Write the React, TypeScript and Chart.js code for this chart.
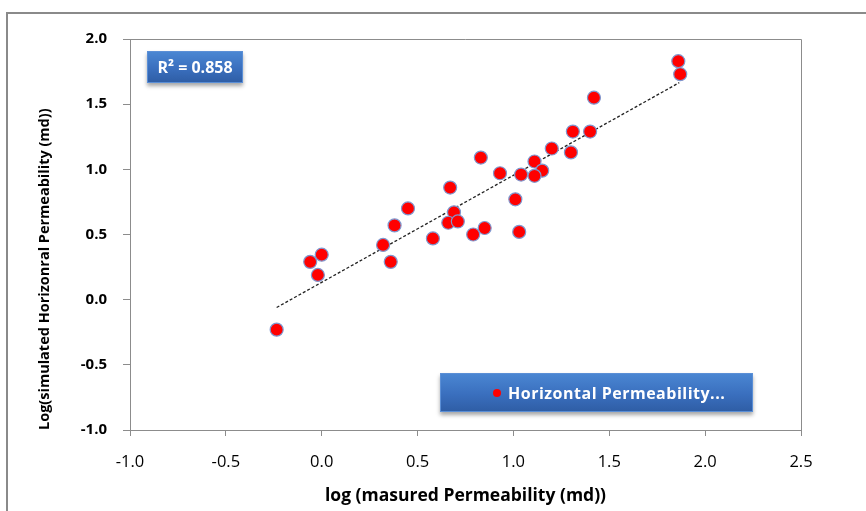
import React, { useEffect, useRef } from "react";
import { Chart, registerables } from "chart.js";

Chart.register(...registerables);

const measuredLog = [
  1.86, 1.87, 1.42, 1.31, 1.40, 1.20, 1.30, 0.83, 1.11, 0.93,
  1.15, 1.04, 1.11, 0.67, 1.01, 0.45, 0.69, 0.66, 0.71, 0.38,
  0.85, 1.03, 0.79, 0.58, 0.32, 0.00, -0.06, 0.36, -0.02, -0.235,
];
const simulatedLog = [
  1.83, 1.73, 1.55, 1.29, 1.29, 1.16, 1.13, 1.09, 1.06, 0.97,
  0.99, 0.96, 0.95, 0.86, 0.77, 0.70, 0.67, 0.59, 0.60, 0.57,
  0.55, 0.52, 0.50, 0.47, 0.42, 0.345, 0.29, 0.29, 0.19, -0.23,
];
const trendX = [-0.235, 1.865];
const trendY = [-0.06, 1.665];

const xTicks = [-1.0, -0.5, 0.0, 0.5, 1.0, 1.5, 2.0, 2.5];
const yTicks = [-1.0, -0.5, 0.0, 0.5, 1.0, 1.5, 2.0];

const seriesLabel = "Horizontal Permeability...";
const r2Label = "R² = 0.858";
const xTitle = "log (masured Permeability (md))";
const yTitle = "Log(simulated Horizonral Permeability (md))";

const FONT = "'Open Sans', Lato, sans-serif";
const AXIS = "#8c8c8c";

const plotBorder = {
  id: "plotBorder",
  afterDatasetsDraw(chart: any) {
    const { ctx, chartArea } = chart;
    ctx.save();
    ctx.strokeStyle = AXIS;
    ctx.lineWidth = 1;
    ctx.beginPath();
    ctx.moveTo(chartArea.left, chartArea.top + 0.5);
    ctx.lineTo(chartArea.right + 0.5, chartArea.top + 0.5);
    ctx.lineTo(chartArea.right + 0.5, chartArea.bottom);
    ctx.stroke();
    ctx.restore();
  },
};

export default function App() {
  const ref = useRef<HTMLCanvasElement | null>(null);

  useEffect(() => {
    if (!ref.current) return;
    const chart = new Chart(ref.current, {
      type: "scatter",
      data: {
        datasets: [
          {
            label: "trend",
            data: trendX.map((x, i) => ({ x, y: trendY[i] })),
            showLine: true,
            borderColor: "#222",
            borderWidth: 1.3,
            borderDash: [3, 2],
            pointRadius: 0,
            order: 2,
          },
          {
            label: seriesLabel,
            data: measuredLog.map((x, i) => ({ x, y: simulatedLog[i] })),
            backgroundColor: "#ff0000",
            borderColor: "#7f97cf",
            borderWidth: 1.2,
            pointRadius: 6.5,
            order: 1,
          },
        ],
      },
      options: {
        responsive: false,
        animation: false,
        devicePixelRatio: 1,
        layout: { padding: { left: 0, top: 39, right: 65, bottom: 0 } },
        plugins: {
          legend: { display: false },
          tooltip: { enabled: false },
        },
        scales: {
          x: {
            type: "linear",
            min: -1,
            max: 2.5,
            afterFit: (s: any) => {
              s.height = 81;
            },
            afterBuildTicks: (s: any) => {
              s.ticks = xTicks.map((v) => ({ value: v }));
            },
            ticks: {
              color: "#000",
              font: { family: FONT, size: 16.5 },
              padding: 16,
              callback: (v: any) => Number(v).toFixed(1),
            },
            grid: { drawOnChartArea: false, color: AXIS, tickLength: 6 },
            border: { color: AXIS, width: 1 },
            title: {
              display: true,
              text: xTitle,
              color: "#000",
              font: { family: FONT, size: 17.5, weight: "bold" },
              padding: { top: 4, bottom: 4 },
            },
          },
          y: {
            type: "linear",
            min: -1,
            max: 2,
            afterFit: (s: any) => {
              s.width = 130;
            },
            afterBuildTicks: (s: any) => {
              s.ticks = yTicks.map((v) => ({ value: v }));
            },
            ticks: {
              color: "#000",
              font: { family: FONT, size: 15, weight: "bold" },
              padding: 16,
              callback: (v: any) => Number(v).toFixed(1),
            },
            grid: { drawOnChartArea: false, color: AXIS, tickLength: 7 },
            border: { color: AXIS, width: 1 },
            title: {
              display: true,
              text: yTitle,
              align: "start",
              color: "#000",
              font: { family: FONT, size: 14.5, weight: "bold" },
              padding: { top: 36, bottom: 36 },
            },
          },
        },
      },
      plugins: [plotBorder],
    } as any);
    return () => chart.destroy();
  }, []);

  const boxStyle: React.CSSProperties = {
    position: "absolute",
    background: "linear-gradient(#4a86d2, #3a6fbe 55%, #2f5ea6)",
    border: "1px solid #5b8fd6",
    boxShadow: "0 3px 4px rgba(0,0,0,0.35)",
    color: "#fff",
    fontFamily: FONT,
    fontWeight: "bold",
    display: "flex",
    alignItems: "center",
    boxSizing: "border-box",
  };

  return (
    <div
      style={{
        position: "absolute",
        left: 0,
        top: 0,
        width: 866,
        height: 511,
        overflow: "hidden",
        background: "#fff",
      }}
    >
      <div
        style={{
          position: "absolute",
          left: 6,
          top: 12,
          width: 900,
          height: 600,
          border: "2px solid #8a8a8a",
          boxSizing: "border-box",
        }}
      />
      <canvas
        ref={ref}
        width={866}
        height={511}
        style={{ position: "absolute", left: 0, top: 0, width: 866, height: 511 }}
      />
      <div
        style={{
          ...boxStyle,
          left: 147,
          top: 51,
          width: 96,
          height: 32,
          justifyContent: "center",
          fontSize: 16,
        }}
      >
        {r2Label}
      </div>
      <div
        style={{
          ...boxStyle,
          left: 440,
          top: 373,
          width: 313,
          height: 39,
          paddingLeft: 52,
          fontSize: 16,
          letterSpacing: 0.5,
        }}
      >
        <span
          style={{
            display: "inline-block",
            width: 8,
            height: 8,
            borderRadius: 4,
            background: "#ff0000",
            marginRight: 7,
          }}
        />
        {seriesLabel}
      </div>
    </div>
  );
}
